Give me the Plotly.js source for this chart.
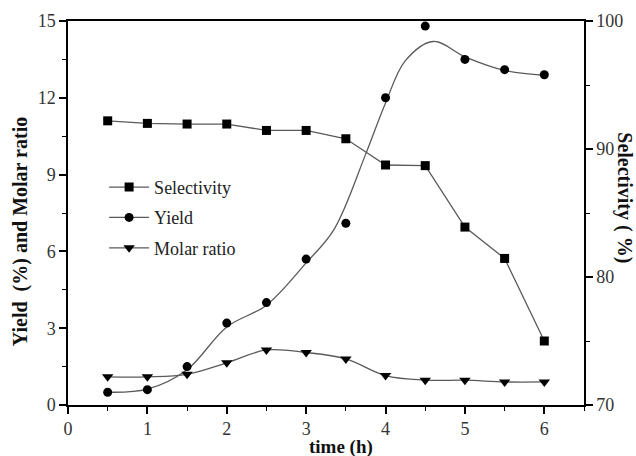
<!DOCTYPE html>
<html><head><meta charset="utf-8">
<script src="https://cdn.plot.ly/plotly-3.0.1.min.js"></script>
<style>body{margin:0;background:#fff}#c{width:636px;height:456px}</style>
</head><body><div id="c"></div>
<script>
var time = [0.5,1,1.5,2,2.5,3,3.5,4,4.5,5,5.5,6];
var selectivity = [92.2,92.0,91.95,91.95,91.45,91.45,90.8,88.75,88.7,83.9,81.45,75.0];
var yieldPts = [0.5,0.6,1.5,3.2,4.0,5.7,7.1,12.0,14.8,13.5,13.1,12.9];
var molar = [1.1,1.1,1.2,1.65,2.15,2.05,1.8,1.15,0.97,0.97,0.9,0.9];
var yieldFitTime = [0.5,1,1.5,2,2.5,3,3.35,3.75,4.0,4.25,4.6,5.0,5.5,6];
var yieldFit = [0.5,0.62,1.38,3.05,3.9,5.55,6.85,9.8,11.8,13.45,14.2,13.6,13.07,12.88];

var lineCol = '#5a5a5a', mk = '#000';
var font = 'Liberation Serif';
var traces = [
  {x: time, y: selectivity, yaxis: 'y2', mode: 'lines+markers', name: 'Selectivity', legendgroup: 'a',
   line: {color: lineCol, width: 1.3}, marker: {symbol: 'square', size: 9, color: mk}},
  {x: yieldFitTime, y: yieldFit, mode: 'lines', showlegend: false,
   line: {color: lineCol, width: 1.3, shape: 'spline', smoothing: 1}},
  {x: time, y: yieldPts, mode: 'markers', showlegend: false,
   marker: {symbol: 'circle', size: 9, color: mk}},
  {x: [null], y: [null], mode: 'lines+markers', name: 'Yield', legendgroup: 'b',
   line: {color: lineCol, width: 1.3}, marker: {symbol: 'circle', size: 9, color: mk}},
  {x: time, y: molar, mode: 'lines+markers', name: 'Molar ratio', legendgroup: 'c',
   line: {color: lineCol, width: 1.3, shape: 'spline', smoothing: 1},
   marker: {symbol: 'triangle-down', size: 10, color: mk}}
];
var layout = {
  width: 636, height: 456,
  margin: {l: 68, r: 52, t: 21, b: 51},
  paper_bgcolor: '#fff', plot_bgcolor: '#fff',
  font: {family: font, size: 18, color: '#333'},
  showlegend: true,
  legend: {x: 0.07, y: 0.615, xanchor: 'left', yanchor: 'top', bgcolor: 'rgba(0,0,0,0)', itemwidth: 40,
           font: {family: font, size: 18, color: '#222'}, tracegroupgap: 4, traceorder: 'grouped'},
  xaxis: {range: [0, 6.5], dtick: 1, tick0: 0, showgrid: false, zeroline: false,
          showline: true, linecolor: '#000', linewidth: 1.5, mirror: true,
          ticks: 'outside', ticklen: 7, tickwidth: 1.5, tickcolor: '#000',
          minor: {dtick: 0.5, ticks: 'outside', ticklen: 4, tickwidth: 1.2, tickcolor: '#000', showgrid: false}},
  yaxis: {range: [0, 15], dtick: 3, tick0: 0, showgrid: false, zeroline: false,
          showline: true, linecolor: '#000', linewidth: 1.5,
          ticks: 'outside', ticklen: 7, tickwidth: 1.5, tickcolor: '#000',
          minor: {dtick: 1.5, ticks: 'outside', ticklen: 4, tickwidth: 1.2, tickcolor: '#000', showgrid: false}},
  yaxis2: {overlaying: 'y', side: 'right', range: [70, 100], dtick: 10, tick0: 70,
           showgrid: false, zeroline: false, showline: true, linecolor: '#000', linewidth: 1.5,
           ticks: 'outside', ticklen: 7, tickwidth: 1.5, tickcolor: '#000',
           minor: {dtick: 5, ticks: 'outside', ticklen: 4, tickwidth: 1.2, tickcolor: '#000', showgrid: false}},
  annotations: [
    {text: '<b>Yield  (%) and Molar ratio</b>', xref: 'paper', yref: 'paper', x: -0.093, y: 0.45,
     xanchor: 'center', yanchor: 'middle', textangle: -90, showarrow: false,
     font: {family: font, size: 20, color: '#111'}},
    {text: '<b>Selectivity ( %)</b>', xref: 'paper', yref: 'paper', x: 1.079, y: 0.539,
     xanchor: 'center', yanchor: 'middle', textangle: 90, showarrow: false,
     font: {family: font, size: 20, color: '#111'}},
    {text: '<b>time (h)</b>', xref: 'paper', yref: 'paper', x: 0.529, y: -0.109,
     xanchor: 'center', yanchor: 'middle', showarrow: false, font: {family: font, size: 19, color: '#111'}}
  ]
};
Plotly.newPlot('c', traces, layout, {displayModeBar: false});
</script></body></html>
